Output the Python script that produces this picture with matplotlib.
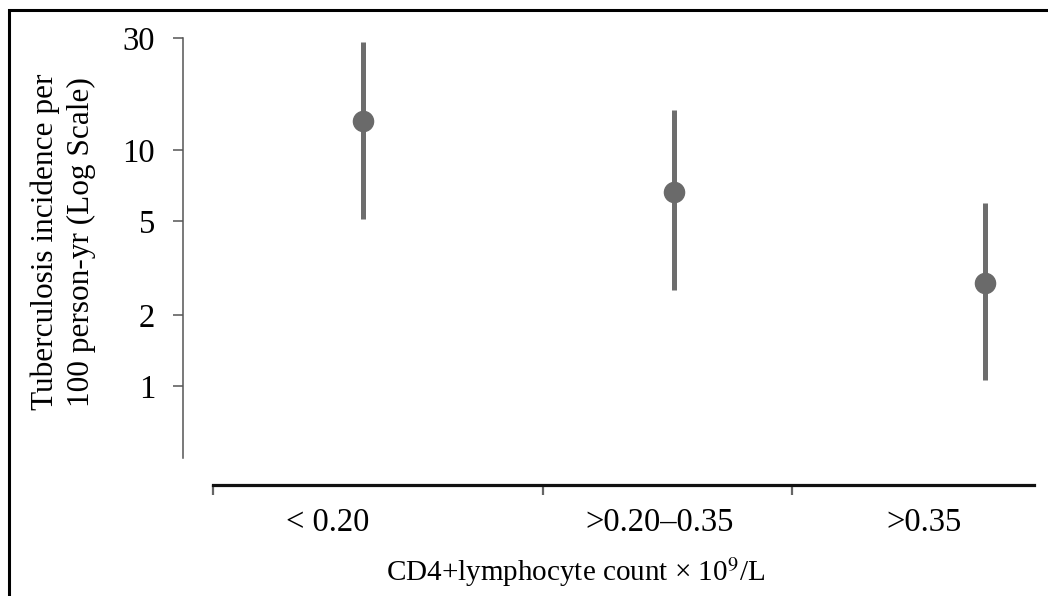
import matplotlib
matplotlib.use("Agg")
import matplotlib.pyplot as plt
from matplotlib.patches import Rectangle
import numpy as np

plt.rcParams['font.family'] = ['Liberation Serif', 'DejaVu Serif']
plt.rcParams['mathtext.fontset'] = 'stix'

categories = ["< 0.20", ">0.20\u20130.35", ">0.35"]
rate = [13.3, 6.65, 2.74]
lower = [5.1, 2.56, 1.06]
upper = [28.8, 14.8, 6.0]
yticks = [1, 2, 5, 10, 30]

fig = plt.figure(figsize=(10.48, 5.96), dpi=100)
ax = fig.add_axes([183/1048, (596-485)/596, (1034-183)/1048, (485-36)/596])

x = np.arange(len(categories))
rate = np.array(rate)
err = [rate - np.array(lower), np.array(upper) - rate]
ax.errorbar(x, rate, yerr=err, fmt='o', color='#6a6a6a', ecolor='#6d6d6d',
            elinewidth=3.6, markersize=14.5, capsize=0, zorder=3)

ax.set_yscale('log')
ax.set_ylim(0.381, 30.55)
ax.set_xlim(-0.579, 2.158)

# axis cosmetics
for s in ['top', 'right']:
    ax.spines[s].set_visible(False)
ax.spines['left'].set_color('#555555')
ax.spines['left'].set_linewidth(1.1)
ax.spines['left'].set_bounds(0.495, 30)
ax.spines['bottom'].set_color('#111111')
ax.spines['bottom'].set_linewidth(2.3)
ax.spines['bottom'].set_bounds(-0.482, 2.158)

ax.set_yticks(yticks)
ax.set_yticklabels([str(v) for v in yticks])
ax.yaxis.set_minor_locator(matplotlib.ticker.NullLocator())
ax.tick_params(axis='y', which='major', length=7, width=1.1, color='#555555',
               labelsize=23.5, pad=13)

# boundaries between CD4 groups and label positions
ax.set_xticks([-0.482, 0.58, 1.38])
ax.set_xticklabels(['', '', ''])
ax.tick_params(axis='x', which='major', length=7, width=1.6, color='#666666')
ax.set_xticks([-0.115, 0.955, 1.805], minor=True)
ax.set_xticklabels(categories, minor=True)
ax.tick_params(axis='x', which='minor', length=0, labelsize=23.5, pad=16)

fig.text(63/1048, (596-242)/596,
         "Tuberculosis incidence per\n100 person-yr (Log Scale)",
         rotation=90, ha='center', va='center', multialignment='center',
         fontsize=22.5, linespacing=1.3)
fig.text(575/1048, (596-572)/596, "CD4+lymphocyte count \u00d7 10$^9$/L",
         ha='center', va='center', fontsize=21)

# frame around the figure (cut off on right and bottom)
fig.patches.append(Rectangle((9/1048, -0.2), 1.5, 1.2 - 10/596, transform=fig.transFigure,
                             fill=False, edgecolor='black', linewidth=2.2))

fig.savefig("out.png", dpi=100)
